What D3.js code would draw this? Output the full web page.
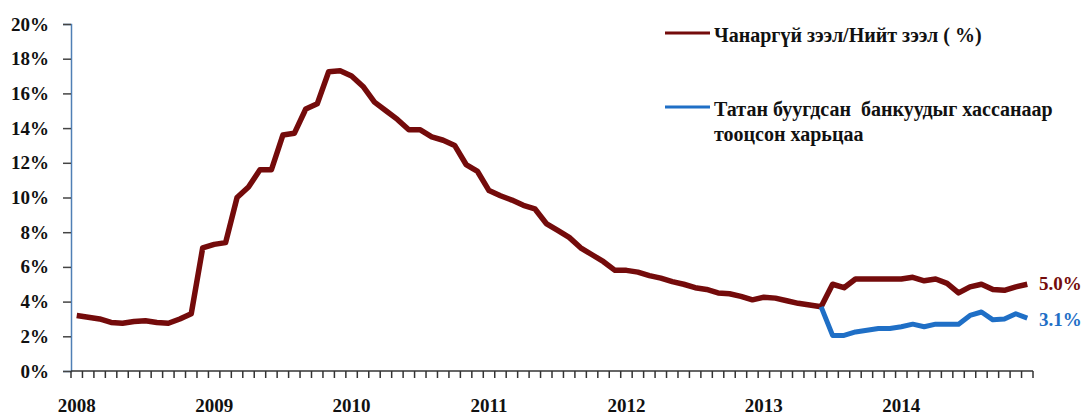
<!DOCTYPE html>
<html><head><meta charset="utf-8">
<script src="https://cdn.jsdelivr.net/npm/d3@7"></script>
<style>
body{margin:0;background:#fff;}
text{font-family:"Liberation Serif","Times New Roman",serif;font-weight:bold;white-space:pre;}
</style></head>
<body><svg id="c" width="1085" height="415"></svg>
<script>
const years = [2008, 2009, 2010, 2011, 2012, 2013, 2014];
const months = [];
years.forEach(y => { for (let m = 1; m <= 12; m++) months.push(y + "-" + (m < 10 ? "0" + m : m)); });

const nplRatio = [
  3.2, 3.1, 3.0, 2.8, 2.75, 2.85, 2.9, 2.8, 2.75, 3.0, 3.3, 7.1,
  7.3, 7.4, 10.0, 10.6, 11.6, 11.6, 13.6, 13.7, 15.1, 15.4, 17.25, 17.3,
  17.0, 16.4, 15.5, 15.0, 14.5, 13.9, 13.9, 13.5, 13.3, 13.0, 11.9, 11.5,
  10.4, 10.1, 9.85, 9.55, 9.35, 8.5, 8.1, 7.7, 7.1, 6.7, 6.3, 5.8,
  5.8, 5.7, 5.5, 5.35, 5.15, 5.0, 4.8, 4.7, 4.5, 4.45, 4.3, 4.1,
  4.25, 4.2, 4.05, 3.9, 3.8, 3.7, 5.0, 4.8, 5.3, 5.3, 5.3, 5.3,
  5.3, 5.4, 5.2, 5.3, 5.05, 4.5, 4.85, 5.0, 4.7, 4.65, 4.85, 5.0
];
const exclRatio = [
  null, null, null, null, null, null, null, null, null, null, null, null,
  null, null, null, null, null, null, null, null, null, null, null, null,
  null, null, null, null, null, null, null, null, null, null, null, null,
  null, null, null, null, null, null, null, null, null, null, null, null,
  null, null, null, null, null, null, null, null, null, null, null, null,
  null, null, null, null, null, 3.7, 2.05, 2.05, 2.25, 2.35, 2.45, 2.45,
  2.55, 2.7, 2.55, 2.7, 2.7, 2.7, 3.2, 3.4, 2.95, 3.0, 3.3, 3.05
];
const yTicks = [0, 2, 4, 6, 8, 10, 12, 14, 16, 18, 20];
const seriesNames = ["Чанаргүй зээл/Нийт зээл ( %)", "Татан буугдсан  банкуудыг хассанаар", "тооцсон харьцаа"];
const endLabels = ["5.0%", "3.1%"];
const colors = ["#740b0b", "#1f6fc6"];

const svg = d3.select("#c");
const x = d3.scaleBand().domain(months).range([71, 1033]).padding(0);
const y = d3.scaleLinear().domain([0, 20]).range([371, 24]);

// y axis
const yAxis = d3.axisLeft(y).tickValues(yTicks).tickFormat(d => d + "%").tickSize(8).tickPadding(14);
const gy = svg.append("g").attr("transform", "translate(71,0)").call(yAxis);
gy.select(".domain").attr("stroke", "#4f7fb5").attr("stroke-width", 1.5);
gy.selectAll(".tick line").attr("stroke", "#444").attr("stroke-width", 1.5);
gy.selectAll(".tick text").attr("font-size", 19).attr("fill", "#111").attr("font-family", "Liberation Serif").attr("font-weight", "bold");

// x axis
const gx = svg.append("g").attr("transform", "translate(0,371)");
gx.append("line").attr("x1", x.range()[0]).attr("x2", x.range()[1]).attr("stroke", "#333").attr("stroke-width", 1.5);
const bounds = months.map(m => x(m)).concat([x.range()[1]]);
gx.selectAll("line.t").data(bounds).join("line").attr("class", "t")
  .attr("x1", d => d).attr("x2", d => d).attr("y1", 0).attr("y2", 7)
  .attr("stroke", "#333").attr("stroke-width", 1.5);
gx.selectAll("text.yr").data(years).join("text").attr("class", "yr")
  .attr("x", d => x(d + "-01") + x.bandwidth() / 2).attr("y", 41)
  .attr("text-anchor", "middle").attr("font-size", 19).attr("fill", "#111")
  .text(d => d);

const cx = (d, i) => x(months[i]) + x.bandwidth() / 2;
const line = d3.line().defined(d => d != null).x(cx).y(d => y(d));

svg.append("path").datum(nplRatio).attr("d", line).attr("fill", "none")
  .attr("stroke", colors[0]).attr("stroke-width", 5.5).attr("stroke-linejoin", "round");
svg.append("path").datum(exclRatio).attr("d", line).attr("fill", "none")
  .attr("stroke", colors[1]).attr("stroke-width", 5).attr("stroke-linejoin", "round");

// end labels
svg.append("text").attr("x", 1039).attr("y", y(nplRatio[83]) + 6).attr("font-size", 19)
  .attr("fill", colors[0]).text(endLabels[0]);
svg.append("text").attr("x", 1039).attr("y", y(exclRatio[83]) + 8).attr("font-size", 19)
  .attr("fill", colors[1]).text(endLabels[1]);

// legend
const lg = svg.append("g");
lg.append("line").attr("x1", 665).attr("x2", 710).attr("y1", 33).attr("y2", 33).attr("stroke", colors[0]).attr("stroke-width", 3);
lg.append("text").attr("x", 714).attr("y", 42).attr("font-size", 20).attr("fill", "#111").text(seriesNames[0]);
lg.append("line").attr("x1", 665).attr("x2", 710).attr("y1", 107).attr("y2", 107).attr("stroke", colors[1]).attr("stroke-width", 3);
lg.append("text").attr("x", 714).attr("y", 116).attr("font-size", 20).attr("fill", "#111").text(seriesNames[1]);
lg.append("text").attr("x", 714).attr("y", 141).attr("font-size", 20).attr("fill", "#111").text(seriesNames[2]);
</script></body></html>
